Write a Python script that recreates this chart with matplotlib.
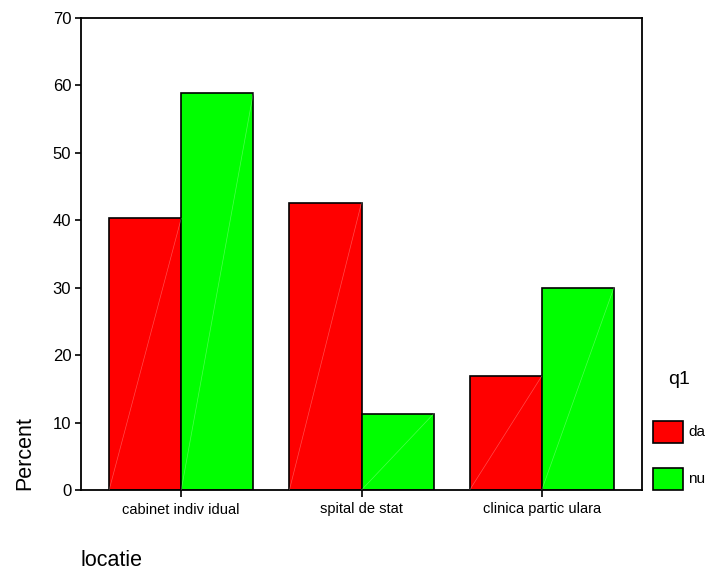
import numpy as np
import matplotlib.pyplot as plt
from matplotlib.patches import Rectangle

plt.rcParams['font.family'] = ['Liberation Sans', 'DejaVu Sans']

# date
categorii = ['cabinet indiv idual', 'spital de stat', 'clinica partic ulara']
da = [40.3, 42.6, 16.9]
nu = [58.9, 11.3, 30.0]
serii = ['da', 'nu']
culori = ['#ff0000', '#00ff00']

W, H = 710, 572
fig = plt.figure(figsize=(W / 100, H / 100), dpi=100)
ax = fig.add_axes([81 / W, (H - 490) / H, 561 / W, 472 / H])

x = np.arange(len(categorii))
lat = 0.4
for i, (vals, c) in enumerate(zip([da, nu], culori)):
    pos = x - lat / 2 + i * lat
    ax.bar(pos, vals, width=lat, color=c, edgecolor='black', linewidth=1.2, zorder=2)
    # linia diagonala alba din export SPSS
    for p, v in zip(pos, vals):
        ax.plot([p - lat / 2, p + lat / 2], [0, v], color='white', lw=0.5, alpha=0.3, zorder=3)

ax.set_xlim(-0.556, 2.556)
ax.set_ylim(0, 70)
ax.set_yticks(np.arange(0, 71, 10))
ax.set_xticks(x)
ax.set_xticklabels(categorii, fontsize=10.5)
ax.tick_params(axis='y', labelsize=12, length=4, width=1.2, pad=3)
ax.tick_params(axis='x', length=5, width=1.2, pad=4)
for s in ax.spines.values():
    s.set_linewidth(1.3)

fig.text(25 / W, (H - 490) / H, 'Percent', rotation=90, fontsize=15.5,
         ha='center', va='bottom')
fig.text(80 / W, (H - 566) / H, 'locatie', fontsize=15.5, ha='left', va='baseline')

# legenda
fig.text(668 / W, (H - 380) / H, 'q1', fontsize=14, ha='left', va='center')
for k, (lab, c) in enumerate(zip(serii, culori)):
    top = 421 + k * 47
    fig.patches.append(Rectangle((653 / W, (H - top - 22) / H), 30 / W, 22 / H,
                                 transform=fig.transFigure, facecolor=c,
                                 edgecolor='black', linewidth=1.2))
    fig.text(688 / W, (H - top - 11) / H, lab, fontsize=11, ha='left', va='center')

fig.savefig('out.png', dpi=100)
